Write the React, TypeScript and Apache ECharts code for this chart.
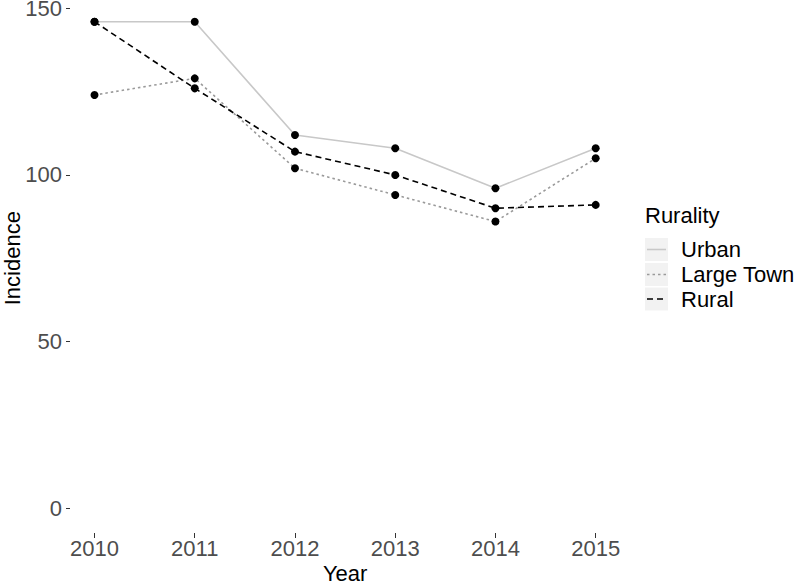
import React, { useEffect, useRef } from "react";
import * as echarts from "echarts";

const years = ["2010", "2011", "2012", "2013", "2014", "2015"];
const urban = [146, 146, 112, 108, 96, 108];
const largeTown = [124, 129, 102, 94, 86, 105];
const rural = [146, 126, 107, 100, 90, 91];
const groupNames = ["Urban", "Large Town", "Rural"];
const legendTitle = "Rurality";
const yTitle = "Incidence";
const xTitle = "Year";

const FONT = "Liberation Sans, Arial, Helvetica, sans-serif";
const lineStyles = [
  { color: "#c8c8c8", type: "solid" as any },
  { color: "#9a9a9a", type: [2.5, 3] as any },
  { color: "#000000", type: [6, 4] as any },
];

export default function App() {
  const ref = useRef<HTMLDivElement>(null);
  useEffect(() => {
    if (!ref.current) return;
    const chart = echarts.init(ref.current, undefined, { renderer: "svg" });
    const seriesData = [urban, largeTown, rural];

    const lineSeries = seriesData.map((d, i) => ({
      name: groupNames[i],
      type: "line",
      data: d,
      showSymbol: false,
      symbol: "none",
      z: 2,
      lineStyle: { width: 1.6, color: lineStyles[i].color, type: lineStyles[i].type },
      silent: true,
    }));
    const pointSeries = seriesData.map((d, i) => ({
      name: groupNames[i] + "-pts",
      type: "scatter",
      data: d,
      symbol: "circle",
      symbolSize: 8,
      z: 5,
      itemStyle: { color: "#000000", opacity: 1 },
      silent: true,
    }));

    const keyX = 645;
    const keyW = 23;
    const keyYs = [238, 263, 287.5];
    const keyH = 23;
    const legendGraphics: any[] = [
      {
        type: "text",
        left: keyX,
        top: 204,
        style: { text: legendTitle, font: `22px ${FONT}`, fill: "#000000" },
      },
    ];
    groupNames.forEach((n, i) => {
      const y0 = keyYs[i];
      legendGraphics.push({
        type: "rect",
        shape: { x: keyX, y: y0, width: keyW, height: keyH },
        style: { fill: "#f2f2f2" },
      });
      legendGraphics.push({
        type: "line",
        shape: { x1: keyX + 2, y1: y0 + keyH / 2, x2: keyX + keyW - 2, y2: y0 + keyH / 2 },
        style: {
          stroke: lineStyles[i].color,
          lineWidth: 1.6,
          lineDash: lineStyles[i].type === "solid" ? null : lineStyles[i].type,
        },
      });
      legendGraphics.push({
        type: "text",
        x: 681,
        y: y0 + keyH / 2,
        style: {
          text: n,
          font: `22px ${FONT}`,
          fill: "#000000",
          verticalAlign: "middle",
          align: "left",
        },
      });
    });

    chart.setOption({
      animation: false,
      backgroundColor: "#ffffff",
      textStyle: { fontFamily: FONT },
      grid: {
        left: 94.5,
        right: 204.3,
        top: 8.4,
        bottom: 74,
        containLabel: false,
        outerBoundsMode: "none",
      },
      xAxis: {
        type: "category",
        data: years,
        boundaryGap: false,
        axisLine: { show: false },
        axisTick: {
          show: true,
          length: 30,
          alignWithLabel: true,
          lineStyle: { color: "#333333", width: 1, type: [0.001, 25, 5, 40] },
        },
        axisLabel: { color: "#4d4d4d", fontSize: 22, fontFamily: FONT, margin: 29 },
        splitLine: { show: false },
        name: xTitle,
        nameLocation: "middle",
        nameGap: 56,
        nameMoveOverlap: false,
        nameTextStyle: { color: "#000000", fontSize: 22, lineHeight: 18, fontFamily: FONT },
      },
      yAxis: {
        type: "value",
        min: 0,
        max: 150,
        interval: 50,
        offset: 24.5,
        axisLine: { show: false },
        axisTick: { show: true, length: 4, lineStyle: { color: "#333333", width: 1 } },
        axisLabel: { color: "#4d4d4d", fontSize: 22, lineHeight: 16, fontFamily: FONT, margin: 8 },
        splitLine: { show: false },
        name: yTitle,
        nameLocation: "middle",
        nameGap: 48,
        nameMoveOverlap: false,
        nameTextStyle: { color: "#000000", fontSize: 22, lineHeight: 20, fontFamily: FONT },
      },
      graphic: legendGraphics,
      series: [...lineSeries, ...pointSeries],
    });
    return () => chart.dispose();
  }, []);
  return <div ref={ref} style={{ width: 800, height: 582, position: "absolute", left: 0, top: 0 }} />;
}
